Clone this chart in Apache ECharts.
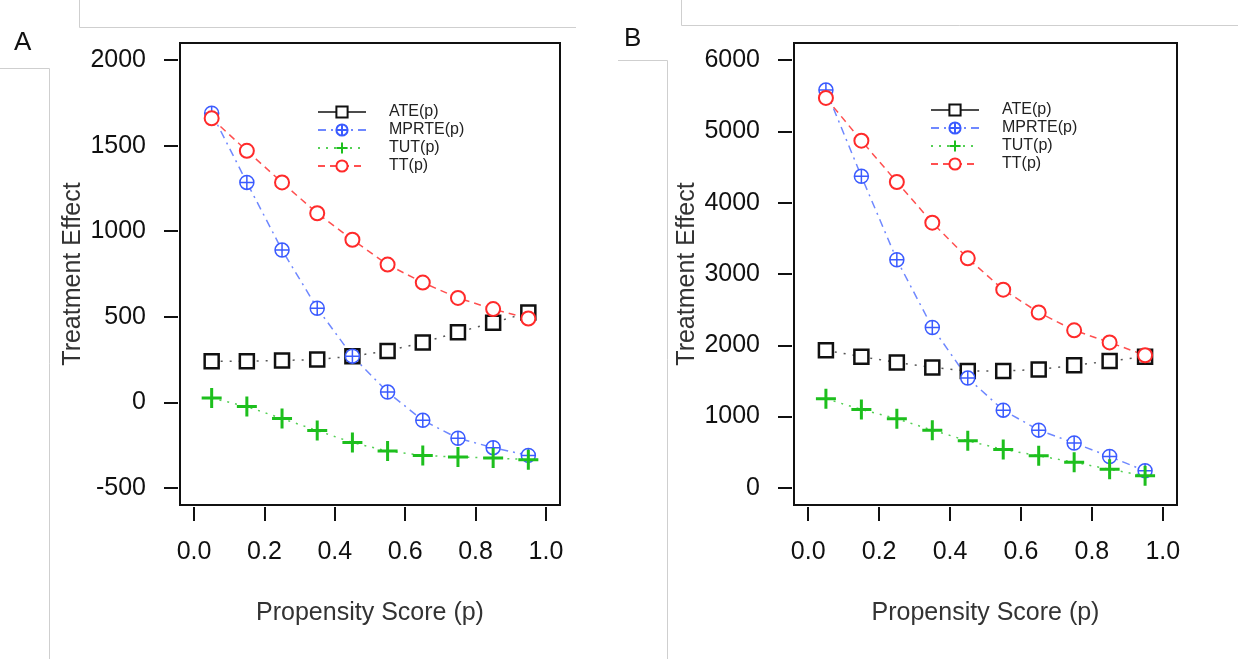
<!DOCTYPE html>
<html>
<head>
<meta charset="utf-8">
<title>Treatment effects by propensity score</title>
<script src="https://cdn.jsdelivr.net/npm/echarts@6/dist/echarts.min.js"></script>
<style>
    html, body { margin: 0; padding: 0; background: #fff; }
    #chart { width: 1238px; height: 659px; }
</style>
</head>
<body>
<div id="chart"></div>
<script>
// 横轴: 倾向得分
const xs = [0.05, 0.15, 0.25, 0.35, 0.45, 0.55, 0.65, 0.75, 0.85, 0.95];
const xTicks = [0, 0.2, 0.4, 0.6, 0.8, 1.0];
const seriesNames = ['ATE(p)', 'MPRTE(p)', 'TUT(p)', 'TT(p)'];

// 图 A
const yTicksA = [-500, 0, 500, 1000, 1500, 2000];
const ateA = [240, 240, 245, 250, 270, 300, 350, 410, 465, 525];
const mprteA = [1690, 1285, 890, 550, 270, 60, -105, -210, -265, -310];
const tutA = [25, -25, -95, -165, -235, -285, -310, -320, -325, -335];
const ttA = [1660, 1470, 1285, 1105, 950, 805, 700, 610, 545, 490];

// 图 B
const yTicksB = [0, 1000, 2000, 3000, 4000, 5000, 6000];
const ateB = [1930, 1840, 1760, 1690, 1640, 1640, 1660, 1720, 1780, 1840];
const mprteB = [5580, 4370, 3200, 2250, 1540, 1090, 810, 630, 440, 240];
const tutB = [1250, 1100, 970, 810, 660, 540, 450, 360, 260, 170];
const ttB = [5470, 4870, 4290, 3720, 3220, 2780, 2460, 2210, 2040, 1860];

const FONT = 'Liberation Sans, Arial, Helvetica, sans-serif';
const circlePlus = 'path://M10,0A10,10,0,1,0,10,20A10,10,0,1,0,10,0ZM10,0L10,20M0,10L20,10';
const plus = 'path://M0,10L20,10M10,0L10,20';

// 每条线的样式
const styles = [
    { color: '#111', line: '#555', dash: [2, 7], width: 1.5, symbol: 'rect', size: 14, border: 2.5, fill: '#fff' },
    { color: '#3b5bff', line: '#6f88ff', dash: [8, 5, 2, 5], width: 1.5, symbol: circlePlus, size: 14, border: 1.5, fill: '#fff' },
    { color: '#1dbf1d', line: '#55d055', dash: [2, 6], width: 1.5, symbol: plus, size: 20, border: 3, fill: 'transparent' },
    { color: '#ff2a2a', line: '#ff5050', dash: [7, 5], width: 1.5, symbol: 'circle', size: 14, border: 2, fill: '#fff' }
];

function pairs(vals) {
    return xs.map((x, i) => [x, vals[i]]);
}

function makeSeries(idx, list) {
    return list.map((vals, k) => {
        const s = styles[k];
        return {
            name: seriesNames[k],
            type: 'line',
            xAxisIndex: idx,
            yAxisIndex: idx,
            data: pairs(vals),
            symbol: s.symbol,
            symbolSize: s.size,
            showAllSymbol: true,
            lineStyle: { color: s.line, width: s.width, type: s.dash },
            itemStyle: { color: s.fill, borderColor: s.color, borderWidth: s.border },
            emphasis: { disabled: true },
            animation: false
        };
    });
}

function makeXAxis(idx) {
    return {
        gridIndex: idx,
        type: 'value',
        min: -0.04,
        max: 1.04,
        offset: 2,
        axisLine: { show: false, onZero: false },
        axisTick: { show: true, customValues: xTicks, length: 14, lineStyle: { color: '#111', width: 2 } },
        axisLabel: {
            customValues: xTicks,
            margin: 33,
            color: '#111',
            fontSize: 25,
            fontFamily: FONT,
            formatter: (v) => v.toFixed(1)
        },
        splitLine: { show: false },
        name: 'Propensity Score (p)',
        nameLocation: 'middle',
        nameGap: 94,
        nameTextStyle: { color: '#333', fontSize: 25, fontFamily: FONT }
    };
}

function makeYAxis(idx, lo, hi, ticks) {
    return {
        gridIndex: idx,
        type: 'value',
        min: lo,
        max: hi,
        offset: 2,
        axisLine: { show: false, onZero: false },
        axisTick: { show: true, customValues: ticks, length: 14, lineStyle: { color: '#111', width: 2 } },
        axisLabel: {
            customValues: ticks,
            margin: 32,
            color: '#111',
            fontSize: 25,
            fontFamily: FONT,
            formatter: (v) => String(v)
        },
        splitLine: { show: false },
        name: 'Treatment Effect',
        nameLocation: 'middle',
        nameGap: 92,
        nameRotate: 90,
        nameTextStyle: { color: '#333', fontSize: 25, fontFamily: FONT }
    };
}

function makeLegend(left, top) {
    return {
        orient: 'vertical',
        left: left,
        top: top,
        itemWidth: 48,
        itemHeight: 14,
        itemGap: 2,
        padding: 0,
        selectedMode: false,
        data: seriesNames.map((n, k) => {
            const item = { name: n };
            if (k === 0) {
                item.lineStyle = { type: 'solid', color: '#111', width: 1.5 };
            }
            return item;
        }),
        textStyle: {
            color: '#222',
            fontSize: 16,
            lineHeight: 16,
            fontFamily: FONT,
            padding: [0, 0, 0, 18]
        }
    };
}

// 截图里留下的灰色边框线
function greyLine(x1, y1, x2, y2) {
    return {
        type: 'line',
        shape: { x1: x1, y1: y1, x2: x2, y2: y2 },
        style: { stroke: '#cfcfcf', lineWidth: 1 },
        silent: true
    };
}

const option = {
    backgroundColor: '#fff',
    animation: false,
    grid: [
        { left: 180, top: 43, width: 380, height: 462, show: true, borderColor: '#111', borderWidth: 2, backgroundColor: 'transparent' },
        { left: 794, top: 43, width: 383, height: 462, show: true, borderColor: '#111', borderWidth: 2, backgroundColor: 'transparent' }
    ],
    xAxis: [makeXAxis(0), makeXAxis(1)],
    yAxis: [
        makeYAxis(0, -600, 2100, yTicksA),
        makeYAxis(1, -240, 6240, yTicksB)
    ],
    legend: [makeLegend(317, 104), makeLegend(930, 102)],
    series: [
        ...makeSeries(0, [ateA, mprteA, tutA, ttA]),
        ...makeSeries(1, [ateB, mprteB, tutB, ttB])
    ],
    graphic: [
        greyLine(79.5, 0, 79.5, 27.5),
        greyLine(79.5, 27.5, 576, 27.5),
        greyLine(0, 68.5, 49.5, 68.5),
        greyLine(49.5, 68.5, 49.5, 659),
        greyLine(681.5, 0, 681.5, 25.5),
        greyLine(681.5, 25.5, 1238, 25.5),
        greyLine(618, 60.5, 667.5, 60.5),
        greyLine(667.5, 60.5, 667.5, 659),
        {
            type: 'text', left: 14, top: 30,
            style: { text: 'A', fontSize: 26, fontFamily: FONT, fill: '#111' }
        },
        {
            type: 'text', left: 624, top: 26,
            style: { text: 'B', fontSize: 26, fontFamily: FONT, fill: '#111' }
        }
    ]
};

const chart = echarts.init(document.getElementById('chart'), null, { renderer: 'canvas' });
chart.setOption(option);
</script>
</body>
</html>
